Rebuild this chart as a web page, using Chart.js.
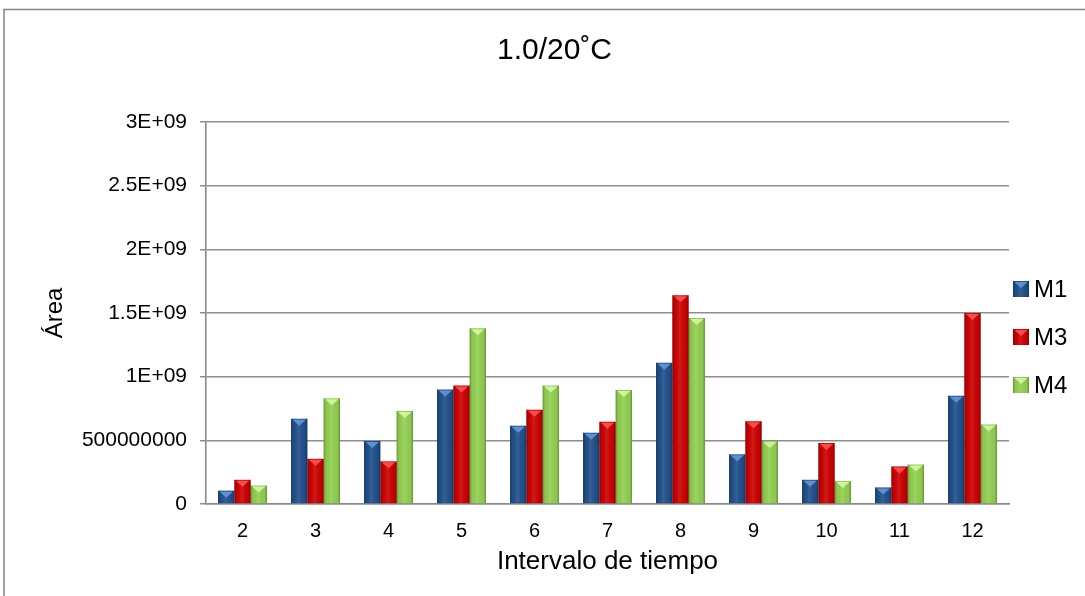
<!DOCTYPE html>
<html><head><meta charset="utf-8">
<script src="https://cdn.jsdelivr.net/npm/chart.js@4.4.1/dist/chart.umd.min.js"></script>
<style>html,body{margin:0;padding:0;background:#fff}#wrap{position:relative;width:1085px;height:596px}</style>
</head><body><div id="wrap"><canvas id="c" width="1085" height="596"></canvas></div>
<script>
const categories = ['2','3','4','5','6','7','8','9','10','11','12'];
const seriesNames = ['M1','M3','M4'];
const m1 = [1.05e8, 6.7e8, 4.95e8, 9.0e8, 6.15e8, 5.6e8, 1.11e9, 3.9e8, 1.9e8, 1.3e8, 8.5e8];
const m3 = [1.9e8, 3.55e8, 3.35e8, 9.3e8, 7.4e8, 6.45e8, 1.64e9, 6.5e8, 4.8e8, 2.95e8, 1.5e9];
const m4 = [1.45e8, 8.3e8, 7.3e8, 1.38e9, 9.3e8, 8.95e8, 1.46e9, 4.95e8, 1.8e8, 3.1e8, 6.25e8];
const yTickLabels = ['0','500000000','1E+09','1.5E+09','2E+09','2.5E+09','3E+09'];
const titleText = '1.0/20\u02DAC';
const xTitle = 'Intervalo de tiempo';
const yTitle = '\u00C1rea';

const seriesColors = ['#1f4f8a', '#cc0000', '#92d050'];
const topColors = ['#5f8fd2', '#ff4a4a', '#cdf49a'];
const FONT = "'Liberation Sans', Arial, sans-serif";

const bgFrame = {
  id: 'bgFrame',
  beforeDraw(chart) {
    const ctx = chart.ctx;
    ctx.save();
    ctx.fillStyle = '#fff';
    ctx.fillRect(0, 0, chart.width, chart.height);
    ctx.strokeStyle = '#8c8c8c';
    ctx.lineWidth = 1.6;
    ctx.strokeRect(4, 9.5, 1300, 800);
    ctx.restore();
  }
};

// widen the y scale box to the canvas edge after layout so its labels are not clipped
const yLeftFix = {
  id: 'yLeftFix',
  afterLayout(chart) {
    const y = chart.scales.y;
    y.left = 0;
    y.width = y.right;
  }
};

function drawBevel(ctx, l, t, w, h, di) {
  const g = ctx.createLinearGradient(l, 0, l + w, 0);
  g.addColorStop(0, 'rgba(0,0,0,0.30)');
  g.addColorStop(0.14, 'rgba(0,0,0,0.04)');
  g.addColorStop(0.45, 'rgba(255,255,255,0.10)');
  g.addColorStop(0.86, 'rgba(0,0,0,0.04)');
  g.addColorStop(1, 'rgba(0,0,0,0.32)');
  ctx.fillStyle = g;
  ctx.fillRect(l, t, w, h);
  ctx.fillStyle = topColors[di];
  ctx.beginPath();
  ctx.moveTo(l + 1.5, t + 1);
  ctx.lineTo(l + w - 1.5, t + 1);
  ctx.lineTo(l + w / 2, t + Math.min(7, h));
  ctx.closePath();
  ctx.fill();
}

const barFx = {
  id: 'barFx',
  afterDatasetsDraw(chart) {
    const ctx = chart.ctx;
    ctx.save();
    chart.data.datasets.forEach((ds, di) => {
      const meta = chart.getDatasetMeta(di);
      meta.data.forEach(bar => {
        const p = bar.getProps(['x', 'y', 'base', 'width'], true);
        const l = p.x - p.width / 2;
        drawBevel(ctx, l, p.y, p.width, p.base - p.y, di);
      });
    });
    ctx.restore();
  }
};

const legendFx = {
  id: 'legendFx',
  afterDraw(chart) {
    const ctx = chart.ctx;
    ctx.save();
    const x0 = 1013, cy0 = 289, step = 48;
    chart.data.datasets.forEach((ds, i) => {
      const cy = cy0 + i * step;
      ctx.fillStyle = ds.backgroundColor;
      ctx.fillRect(x0, cy - 8, 16, 16);
      drawBevel(ctx, x0, cy - 8, 16, 16, i);
      ctx.fillStyle = '#000';
      ctx.font = '24px ' + FONT;
      ctx.textBaseline = 'middle';
      ctx.textAlign = 'left';
      ctx.fillText(ds.label, 1034, cy + 1);
    });
    ctx.restore();
  }
};

const datasets = [m1, m3, m4].map((arr, i) => ({
  label: seriesNames[i],
  data: arr,
  backgroundColor: seriesColors[i],
  borderWidth: 0,
  categoryPercentage: 0.67,
  barPercentage: 1.0
}));

new Chart(document.getElementById('c'), {
  type: 'bar',
  data: { labels: categories, datasets },
  options: {
    responsive: false,
    animation: false,
    layout: { padding: { left: 100, right: 76, top: 0, bottom: 0 } },
    plugins: {
      legend: { display: false },
      tooltip: { enabled: false },
      title: {
        display: true,
        text: titleText,
        color: '#000',
        font: { family: FONT, size: 30, weight: 'normal' },
        padding: { top: 33, bottom: 53 }
      }
    },
    scales: {
      x: {
        grid: { display: false, drawTicks: false },
        border: { display: true, color: '#8a8a8a', width: 1.6 },
        ticks: { color: '#000', font: { family: FONT, size: 20 }, padding: 15, maxRotation: 0 },
        title: { display: true, text: xTitle, color: '#000', font: { family: FONT, size: 26 }, padding: { top: 0, bottom: 19 } },
        afterFit(s) { s.height = 92; }
      },
      y: {
        min: 0, max: 3e9,
        grid: { color: '#8e8e8e', lineWidth: 1.5, tickLength: 6, drawTicks: true, tickColor: '#8e8e8e' },
        border: { display: true, color: '#8a8a8a', width: 1.6 },
        ticks: {
          stepSize: 5e8, color: '#000', font: { family: FONT, size: 21 }, padding: 13,
          callback: (v, i) => yTickLabels[i]
        },
        title: { display: true, text: yTitle, color: '#000', font: { family: FONT, size: 24 }, padding: { top: 41, bottom: 0 } },
        afterFit(s) { s.width = 106; }
      }
    }
  },
  plugins: [bgFrame, yLeftFix, barFx, legendFx]
});
</script>
</body></html>
